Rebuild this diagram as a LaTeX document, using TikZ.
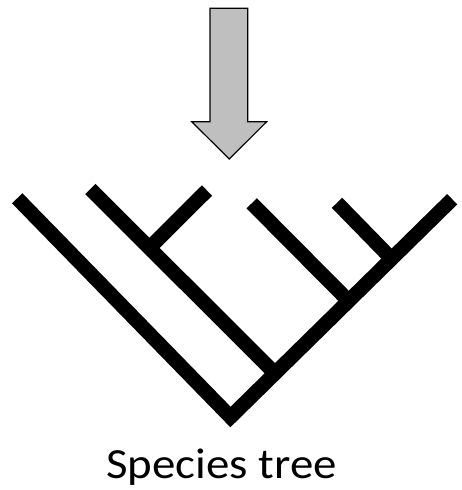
\documentclass[tikz,border=0pt]{standalone}
\usepackage{fontspec}
\setmainfont{Carlito}
\definecolor{arrowgrey}{HTML}{BFBFBF}

\begin{document}
\begin{tikzpicture}[x=1pt,y=-1pt,line join=miter,
    branch/.style={line width=14.5pt,line cap=butt}]
  \useasboundingbox (0,0) rectangle (462,490);

  % Grey arrow pointing down at the tree.
  \draw[fill=arrowgrey,line width=1.2pt]
    (210,8.3)--(247.7,8.3)--(247.7,121.7)--(266.7,121.7)
    --(229.3,159)--(191.7,121.7)--(210,121.7)--cycle;

  % Root and outer branches.
  \coordinate (root) at (230.5,417);
  \coordinate (tipA) at (17.2,198.3);
  \coordinate (tipF) at (452.2,199.2);
  \draw[branch] (tipA)--(root)--(tipF);

  % Inner clades joining the right-hand branch.
  \coordinate (jB) at (275,373.3);
  \coordinate (tipB) at (90.3,189);
  \draw[branch] (tipB)--(jB);
  \coordinate (jC) at (149.4,248);
  \coordinate (tipC) at (207,190.5);
  \draw[branch] (tipC)--(jC);

  \coordinate (jD) at (348.7,301);
  \coordinate (tipD) at (251.7,203.3);
  \draw[branch] (tipD)--(jD);
  \coordinate (jE) at (391.6,258.8);
  \coordinate (tipE) at (337,202.8);
  \draw[branch] (tipE)--(jE);

  \node[anchor=base,inner sep=0pt,xscale=1.09,
        font=\fontsize{43}{50}\selectfont]
    (label) at (221.5,478.5) {Species tree};
\end{tikzpicture}
\end{document}
